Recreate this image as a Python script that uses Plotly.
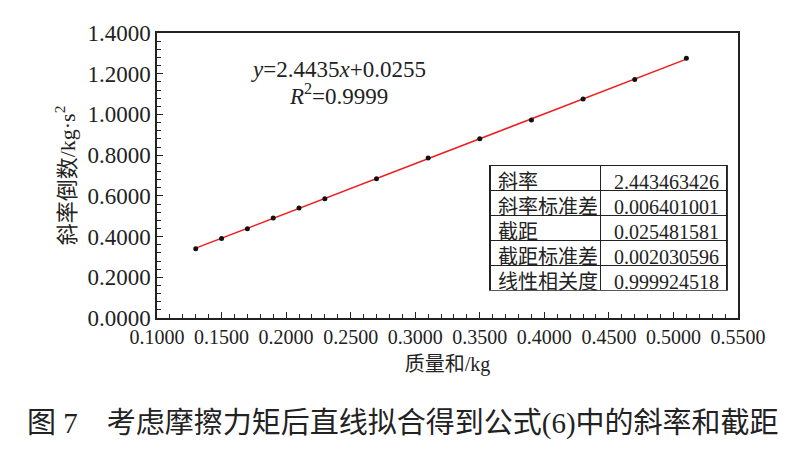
import numpy as np
import plotly.graph_objects as go

# 质量和 (kg) and 斜率倒数 (kg·s^2)
mass_sum = [0.13, 0.15, 0.17, 0.19, 0.21, 0.23, 0.27, 0.31, 0.35, 0.39, 0.43, 0.47, 0.51]
inv_slope = [0.340, 0.390, 0.439, 0.491, 0.540, 0.586, 0.684, 0.786, 0.881, 0.973, 1.076, 1.172, 1.276]

# fit results shown in the table
fit_names = ["斜率", "斜率标准差", "截距", "截距标准差", "线性相关度"]
fit_values = ["2.443463426", "0.006401001", "0.025481581", "0.002030596", "0.999924518"]
slope = 2.443463426
intercept = 0.025481581

FONT = "Liberation Serif, Times New Roman, Noto Sans CJK SC"

x_fit = np.array([mass_sum[0], mass_sum[-1]])
y_fit = slope * x_fit + intercept

fig = go.Figure()

fig.add_trace(go.Scatter(
    x=x_fit, y=y_fit, mode="lines",
    line=dict(color="#ee1c1c", width=1.5),
    hoverinfo="skip", showlegend=False
))
fig.add_trace(go.Scatter(
    x=mass_sum, y=inv_slope, mode="markers",
    marker=dict(color="#111111", size=5),
    showlegend=False
))

cell_style = dict(
    line=dict(color="#222222", width=1.2),
    fill=dict(color="white"),
    font=dict(family=FONT, size=20, color="#222222"),
    height=25,
    align=["left", "right"],
)
fig.add_trace(go.Table(
    domain=dict(x=[0.573, 0.982], y=[0.092, 0.534]),
    columnwidth=[111, 127],
    header=dict(values=[fit_names[0], fit_values[0]], **cell_style),
    cells=dict(values=[fit_names[1:], fit_values[1:]], **cell_style),
))

axis_common = dict(
    showline=True, linecolor="#222222", linewidth=1.5, mirror=True,
    ticks="inside", ticklen=6, tickwidth=1.2, tickcolor="#222222",
    showgrid=False, zeroline=False, tickformat=".4f",
)

fig.update_xaxes(
    range=[0.1, 0.55], dtick=0.05, tick0=0.1,
    minor=dict(dtick=0.01, ticks="inside", ticklen=4, tickcolor="#222222"),
    tickfont=dict(family=FONT, size=20, color="#222222"),
    title=dict(text="质量和/kg", font=dict(family=FONT, size=20, color="#222222"), standoff=10),
    **axis_common
)
fig.update_yaxes(
    range=[0, 1.4], dtick=0.2,
    minor=dict(dtick=0.04, ticks="inside", ticklen=4, tickcolor="#222222"),
    tickfont=dict(family=FONT, size=23, color="#222222"),
    title=dict(text="斜率倒数/kg·s<sup>2</sup>", font=dict(family=FONT, size=22, color="#222222"), standoff=6),
    **axis_common
)

fig.add_annotation(
    xref="paper", yref="paper", x=0.312, y=0.872, xanchor="center", yanchor="middle",
    showarrow=False,
    text="<i>y</i>=2.4435<i>x</i>+0.0255",
    font=dict(family=FONT, size=23, color="#222222")
)
fig.add_annotation(
    xref="paper", yref="paper", x=0.312, y=0.785, xanchor="center", yanchor="middle",
    showarrow=False,
    text="<i>R</i><sup>2</sup>=0.9999",
    font=dict(family=FONT, size=23, color="#222222")
)
fig.add_annotation(
    xref="paper", yref="paper", x=0.423, y=-0.37, xanchor="center", yanchor="middle",
    showarrow=False,
    text="图 7　考虑摩擦力矩后直线拟合得到公式(6)中的斜率和截距",
    font=dict(family=FONT, size=29, color="#222222")
)

# page body adds an 8px margin, so the figure is a bit smaller than the window
fig.update_layout(
    width=798, height=453,
    margin=dict(l=149, r=68, t=25, b=143),
    paper_bgcolor="white", plot_bgcolor="white",
    font=dict(family=FONT, color="#222222"),
)

fig.write_html("out.html")
